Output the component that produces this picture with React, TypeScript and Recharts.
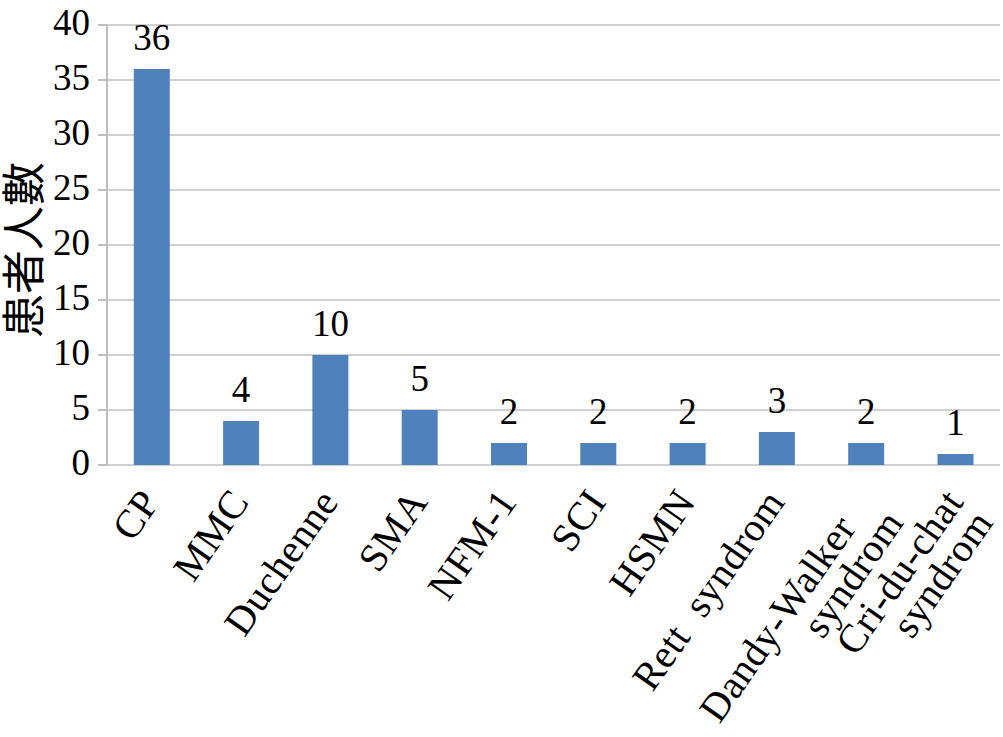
import { Bar, BarChart, CartesianGrid, LabelList, XAxis, YAxis } from "recharts";

const categories = [
  "CP",
  "MMC",
  "Duchenne",
  "SMA",
  "NFM-1",
  "SCI",
  "HSMN",
  "Rett\u00a0 syndrom",
  "Dandy-Walker\u00a0\u00a0\u00a0\nsyndrom",
  "Cri-du-chat\nsyndrom",
];
const patients = [36, 4, 10, 5, 2, 2, 2, 3, 2, 1];
const yTicks = [0, 5, 10, 15, 20, 25, 30, 35, 40];
const boundaryTicks = [0, 1, 2, 3, 4, 5, 6, 7, 8, 9, 10];

const data = categories.map((name, i) => ({ name, value: patients[i] }));

const FONT = "'Liberation Serif', 'Noto Sans CJK JP', serif";
const GRID = "#d0d0d0";
const AXIS = "#bfbfbf";

// rotated, right-aligned category labels; extra lines go below the first
function AngledTick(props: any) {
  const { x, y, payload } = props;
  const lines = String(payload.value).split("\n");
  const lh = 36;
  return (
    <g transform={`translate(${x - 2},${y + 21}) rotate(-55)`}>
      <text textAnchor="end" fontSize={40} fontFamily={FONT} fill="#000" letterSpacing={0.5}>
        {lines.map((line, i) => (
          <tspan key={i} x={0} y={i * lh} dy="0.35em">
            {line}
          </tspan>
        ))}
      </text>
    </g>
  );
}

export default function App() {
  return (
    <div style={{ position: "absolute", left: 0, top: 0, background: "#fff" }}>
      <BarChart
        width={1003}
        height={737}
        data={data}
        margin={{ top: 25, right: 3, bottom: 0, left: 0 }}
        barCategoryGap="30%"
      >
        <CartesianGrid vertical={false} stroke={GRID} strokeWidth={2} />
        <XAxis
          xAxisId="grid"
          type="number"
          domain={[0, 10]}
          ticks={boundaryTicks}
          tick={false}
          tickLine={{ stroke: AXIS, strokeWidth: 2 }}
          tickSize={11}
          axisLine={{ stroke: AXIS, strokeWidth: 2 }}
          height={0}
        />
        <XAxis
          dataKey="name"
          interval={0}
          tickLine={false}
          axisLine={false}
          height={272}
          tick={<AngledTick />}
        />
        <YAxis
          width={107}
          domain={[0, 40]}
          ticks={yTicks}
          interval={0}
          tickSize={9}
          tickMargin={8}
          tickLine={{ stroke: AXIS, strokeWidth: 2 }}
          axisLine={{ stroke: AXIS, strokeWidth: 2 }}
          tick={{ fill: "#000", fontSize: 37, fontFamily: FONT, dy: -3 }}
          label={{
            value: "患者人數",
            angle: -90,
            position: "center",
            dx: -29,
            dy: 5,
            fill: "#000",
            fontSize: 44,
            fontFamily: FONT,
          }}
        />
        <Bar dataKey="value" fill="#4f81bd" isAnimationActive={false}>
          <LabelList
            dataKey="value"
            position="top"
            offset={19}
            fill="#000"
            fontSize={37}
            fontFamily={FONT}
          />
        </Bar>
      </BarChart>
    </div>
  );
}
